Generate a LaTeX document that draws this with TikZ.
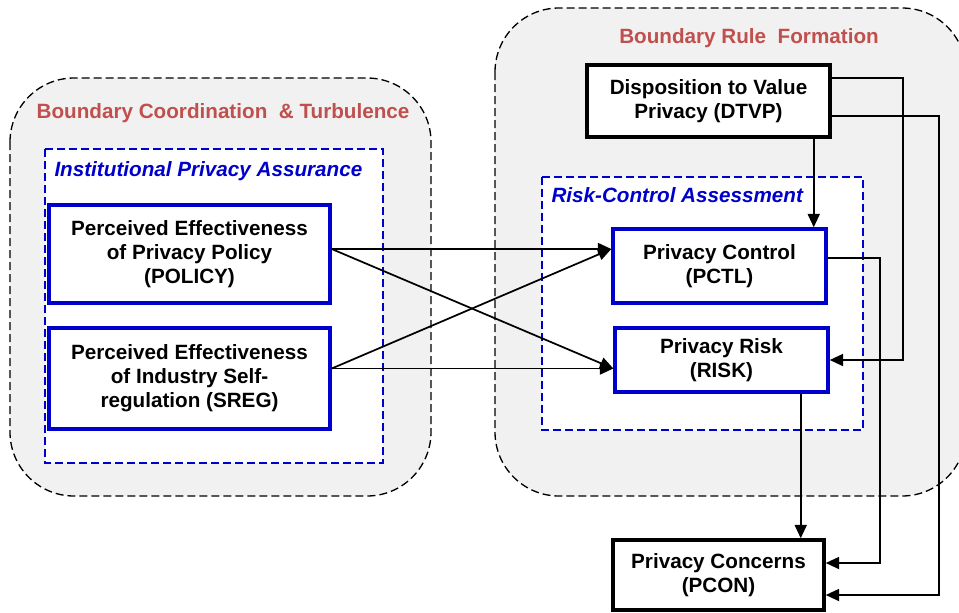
\documentclass[tikz,border=0pt]{standalone}
\usepackage{fontspec}
\setmainfont{Liberation Sans}
\usetikzlibrary{arrows.meta,calc}
\definecolor{titlered}{RGB}{192,80,77}
\definecolor{boxblue}{RGB}{0,0,204}
\definecolor{regiongray}{RGB}{241,241,241}
\tikzset{every picture/.style={line width=0.75pt}}
\tikzset{
  region/.style={draw=black, fill=regiongray, dash pattern=on 6pt off 3pt, line width=1pt, rounded corners=48pt},
  group/.style={draw=boxblue, fill=white, dash pattern=on 6pt off 3pt, line width=1pt},
  construct/.style={draw=boxblue, fill=white, line width=2.6pt, inner sep=0pt, align=center, font=\fontsize{15.5}{18}\selectfont\bfseries},
  outcome/.style={construct, draw=black},
  regiontitle/.style={text=titlered, font=\fontsize{15.5}{18}\selectfont\bfseries, inner sep=0.75pt},
  grouptitle/.style={text=boxblue, font=\fontsize{15.5}{18}\selectfont\bfseries\itshape, inner sep=0.75pt},
  link/.style={-{Triangle[length=10pt,width=9pt]}, line width=1.3pt},
}
\begin{document}
\begin{tikzpicture}[x=0.75pt,y=0.75pt,yscale=-1,xscale=1]
\clip (0,0) rectangle (959,612);
%Shape: Rounded Rect [id:boundary coordination]
\draw [region] (10,78) rectangle (431,496);
%Shape: Rounded Rect [id:boundary rule formation]
\draw [region] (495,8) rectangle (966,496);
%Shape: Rectangle [id:institutional assurance]
\draw [group] (45,149) rectangle (383,463);
%Shape: Rectangle [id:risk-control assessment]
\draw [group] (542,177) rectangle (863,430);
% Text Node
\node (coordtitle) at (223,113) [regiontitle] {Boundary Coordination \ \& Turbulence};
% Text Node
\node (ruletitle) at (749,38) [regiontitle] {Boundary Rule \ Formation};
% Text Node
\node (assurtitle) at (53,171) [anchor=west][grouptitle] {Institutional Privacy Assurance};
% Text Node
\node (rctitle) at (550,195) [anchor=west][grouptitle] {Risk-Control Assessment};
%Shape: Rectangle [id:POLICY]
\node (POLICY) at (189.5,254) [construct, minimum width=210.75pt, minimum height=73.5pt] {Perceived Effectiveness\\of Privacy Policy\\(POLICY)};
%Shape: Rectangle [id:SREG]
\node (SREG) at (189.5,378.5) [construct, minimum width=210.75pt, minimum height=75.75pt] {Perceived Effectiveness\\of Industry Self-\\regulation (SREG)};
%Shape: Rectangle [id:DTVP]
\node (DTVP) at (708.5,101) [outcome, minimum width=182.25pt, minimum height=54pt] {Disposition to Value\\Privacy (DTVP)};
%Shape: Rectangle [id:PCTL]
\node (PCTL) at (719.5,266) [construct, minimum width=159.75pt, minimum height=55.5pt] {Privacy Control\\(PCTL)};
%Shape: Rectangle [id:RISK]
\node (RISK) at (721.5,360) [construct, minimum width=159.75pt, minimum height=48pt] {Privacy Risk\\(RISK)};
%Shape: Rectangle [id:PCON]
\node (PCON) at (718.5,575) [outcome, minimum width=158.25pt, minimum height=52.5pt] {Privacy Concerns\\(PCON)};
% ports
\coordinate (polout) at ($(POLICY.east)+(0,-5)$);
\coordinate (pctlin) at (polout -| PCTL.west);
\coordinate (sregout) at ($(SREG.east)+(0,-10)$);
\coordinate (riskin) at (sregout -| RISK.west);
\coordinate (dtvpdown) at ($(DTVP.south east)+(-18,0)$);
\coordinate (dtvpa) at ($(DTVP.east)+(0,-23)$);
\coordinate (dtvpb) at ($(DTVP.east)+(0,15)$);
\coordinate (pctlout) at ($(PCTL.east)+(0,-8)$);
\coordinate (riskout) at ($(RISK.south east)+(-29,0)$);
\coordinate (pcona) at ($(PCON.east)+(0,-12)$);
\coordinate (pconb) at ($(PCON.east)+(0,20)$);
%Straight Lines [id:policy links]
\draw [link] (polout) -- (pctlin);
\draw [link] (polout) -- (riskin);
%Straight Lines [id:sreg links]
\draw [link] (sregout) -- (pctlin);
\draw [link] (sregout) -- (riskin);
%Straight Lines [id:dtvp links]
\draw [link] (dtvpdown) -- (dtvpdown |- PCTL.north);
\draw [link] (dtvpa) -- ++(71,0) |- (RISK.east);
\draw [link] (dtvpb) -- ++(107,0) |- (pconb);
%Straight Lines [id:pcon links]
\draw [link] (pctlout) -- ++(52,0) |- (pcona);
\draw [link] (riskout) -- (riskout |- PCON.north);
\end{tikzpicture}
\end{document}
